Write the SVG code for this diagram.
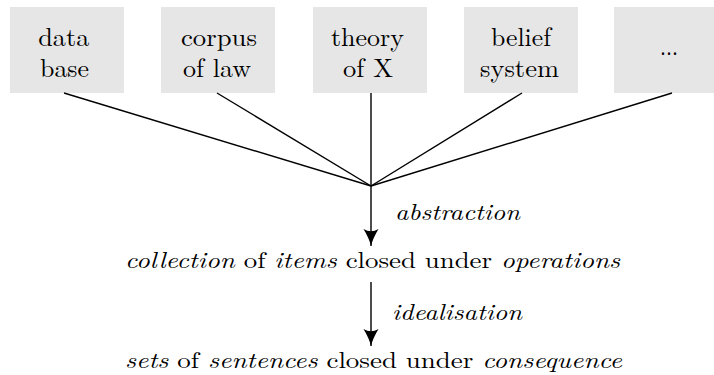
<svg xmlns="http://www.w3.org/2000/svg" width="714" height="375" viewBox="0 0 714 375">
<style>
.box{fill:#e6e6e6;stroke:none}
text{font-family:'Latin Modern Roman','CMU Serif','Liberation Serif','Times New Roman',Times,'DejaVu Serif',serif;fill:#000}
.t{font-size:26px;text-anchor:middle}
.m{font-size:22.5px}
.i{font-style:italic}
.c{stroke:#000;stroke-width:1.4;fill:none}
</style>
<defs>
<marker id="ah" viewBox="0 0 18 18" refX="17" refY="9" markerWidth="18" markerHeight="18" markerUnits="userSpaceOnUse" orient="auto">
<path d="M0,1.5 Q9,7 17,9 Q9,11 0,16.5 Q4.5,9 0,1.5 Z" fill="#000"/>
</marker>
</defs>
<g id="n1"><rect class="box" x="10" y="7" width="114" height="86"/><text class="t" x="63.8" y="46" textLength="51" lengthAdjust="spacingAndGlyphs">data</text><text class="t" x="64.5" y="77" textLength="49" lengthAdjust="spacingAndGlyphs">base</text></g>
<g id="n2"><rect class="box" x="161" y="7" width="114" height="86"/><text class="t" x="219" y="46" textLength="76" lengthAdjust="spacingAndGlyphs">corpus</text><text class="t" x="217" y="77" textLength="68" lengthAdjust="spacingAndGlyphs">of law</text></g>
<g id="n3"><rect class="box" x="313" y="7" width="114" height="86"/><text class="t" x="367.5" y="46" textLength="73" lengthAdjust="spacingAndGlyphs">theory</text><text class="t" x="368" y="77" textLength="50" lengthAdjust="spacingAndGlyphs">of X</text></g>
<g id="n4"><rect class="box" x="464" y="7" width="114" height="86"/><text class="t" x="521" y="46" textLength="60" lengthAdjust="spacingAndGlyphs">belief</text><text class="t" x="519.5" y="77" textLength="79" lengthAdjust="spacingAndGlyphs">system</text></g>
<g id="n5"><rect class="box" x="614" y="7" width="114" height="86"/><text class="t" x="669" y="55" textLength="18" lengthAdjust="spacingAndGlyphs">...</text></g>
<g id="connectors">
<line class="c" x1="64" y1="93" x2="371" y2="186"/>
<line class="c" x1="217" y1="93" x2="371" y2="186"/>
<line class="c" x1="371" y1="93" x2="371" y2="186"/>
<line class="c" x1="522" y1="93" x2="371" y2="186"/>
<line class="c" x1="672" y1="93" x2="371" y2="186"/>
<line class="c" x1="371" y1="186" x2="371" y2="246" marker-end="url(#ah)"/>
<line class="c" x1="371" y1="282" x2="371" y2="346" marker-end="url(#ah)"/>
</g>
<g id="l1"><text class="m i" x="395" y="220" textLength="125" lengthAdjust="spacingAndGlyphs">abstraction</text></g>
<g id="l2"><text class="m i" x="392" y="320" textLength="130" lengthAdjust="spacingAndGlyphs">idealisation</text></g>
<g id="s1"><text class="m" x="125" y="268" textLength="495" lengthAdjust="spacingAndGlyphs"><tspan class="i">collection</tspan> of <tspan class="i">items</tspan> closed under <tspan class="i">operations</tspan></text></g>
<g id="s2"><text class="m" x="125" y="368" textLength="497" lengthAdjust="spacingAndGlyphs"><tspan class="i">sets</tspan> of <tspan class="i">sentences</tspan> closed under <tspan class="i">consequence</tspan></text></g>
</svg>
